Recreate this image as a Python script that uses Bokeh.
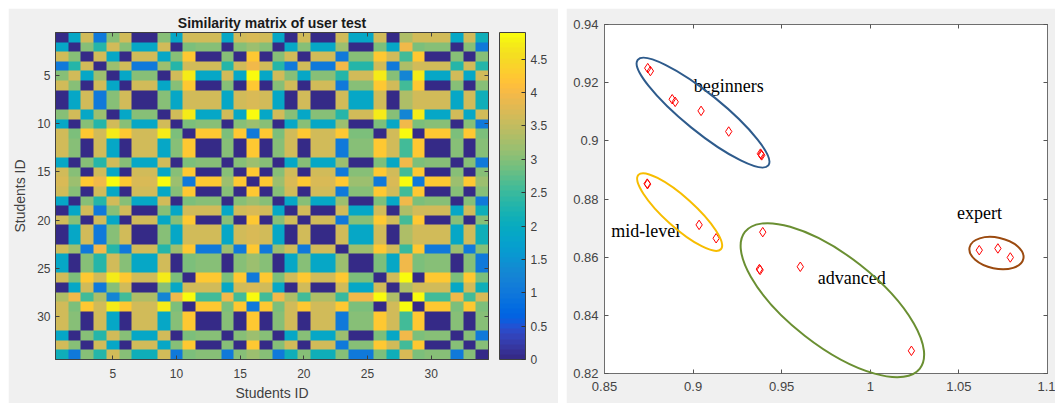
import numpy as np
from bokeh.plotting import figure
from bokeh.layouts import row
from bokeh.models import (LinearColorMapper, ColorBar, FixedTicker, NumeralTickFormatter,
                          LinearAxis, Range1d)
from bokeh.core.properties import value
from bokeh.embed import file_html
from bokeh.resources import INLINE

# ---------------- data: similarity matrix ----------------
# each student belongs to a behaviour group; a cell holds the similarity of the two students' groups
student_group = ["A", "B", "C", "D", "E", "C", "A", "A", "E", "B",
                 "F", "C", "C", "B", "C", "G", "C", "B", "A", "C",
                 "A", "A", "H", "B", "B", "F", "A", "I", "F", "C",
                 "C", "B", "C", "J"]
group_names = ["A", "B", "C", "D", "E", "F", "G", "H", "I", "J"]
group_similarity = [
    [0.00, 1.85, 3.60, 1.00, 3.00, 3.65, 3.70, 3.65, 3.30, 2.10],
    [1.85, 0.00, 3.00, 2.35, 3.60, 2.95, 3.15, 3.20, 3.95, 1.00],
    [3.60, 3.00, 0.00, 3.60, 1.85, 4.25, 4.25, 1.05, 2.55, 3.05],
    [1.00, 2.35, 3.60, 0.00, 3.20, 3.65, 3.95, 3.95, 3.30, 2.35],
    [3.00, 3.60, 1.85, 3.20, 0.00, 4.70, 4.85, 2.35, 1.30, 3.60],
    [3.65, 2.95, 4.25, 3.65, 4.70, 0.00, 1.00, 4.25, 4.85, 2.95],
    [3.70, 3.15, 4.25, 3.95, 4.85, 1.00, 0.00, 4.25, 4.90, 3.15],
    [3.65, 3.20, 1.05, 3.95, 2.35, 4.25, 4.25, 0.00, 2.45, 3.05],
    [3.30, 3.95, 2.55, 3.30, 1.30, 4.85, 4.90, 2.45, 0.00, 3.70],
    [2.10, 1.00, 3.05, 2.35, 3.60, 2.95, 3.15, 3.05, 3.70, 0.00],
]
matrix_ticks = [5, 10, 15, 20, 25, 30]
colorbar_ticks = [0, 0.5, 1, 1.5, 2, 2.5, 3, 3.5, 4, 4.5]

# ---------------- data: scatter ----------------
pts_x = [0.8744, 0.8759, 0.8882, 0.8899, 0.9045, 0.9201, 0.9380, 0.9384, 0.9387,
         0.8741, 0.8743, 0.9034, 0.9130,
         0.9393, 0.9374, 0.9378, 0.9605, 1.0232,
         1.0615, 1.0720, 1.0790]
pts_y = [0.9250, 0.9240, 0.9143, 0.9134, 0.9103, 0.9032, 0.8956, 0.8953, 0.8950,
         0.8853, 0.8851, 0.8711, 0.8665,
         0.8686, 0.8559, 0.8556, 0.8567, 0.8278,
         0.8624, 0.8630, 0.8599]
cluster_names = ["beginners", "mid-level", "advanced", "expert"]
label_x = [0.9004, 0.8538, 0.9703, 1.0489]
label_y = [0.9189, 0.8690, 0.8527, 0.8751]
ell_x = [0.9056, 0.8924, 0.9786, 1.0712]
ell_y = [0.9097, 0.8755, 0.8452, 0.8614]
scatter_xticks = [0.85, 0.9, 0.95, 1.0, 1.05, 1.1]
scatter_yticks = [0.82, 0.84, 0.86, 0.88, 0.90, 0.92, 0.94]

# ---------------- style ----------------
ell_w = [168, 111, 222, 55]      # screen px
ell_h = [38, 30, 90, 31]
ell_angle_deg = [-39, -42, -38, -12]
ell_colors = ["#2e5b8c", "#f7bd00", "#6a8f32", "#9b4a0f"]

parula_rgb = [
    (0.2081, 0.1663, 0.5292), (0.2116, 0.1898, 0.5777), (0.2123, 0.2138, 0.6270), (0.2081, 0.2386, 0.6771),
    (0.1959, 0.2645, 0.7279), (0.1707, 0.2919, 0.7792), (0.1253, 0.3242, 0.8303), (0.0591, 0.3598, 0.8683),
    (0.0117, 0.3875, 0.8820), (0.0060, 0.4086, 0.8828), (0.0165, 0.4266, 0.8786), (0.0329, 0.4430, 0.8720),
    (0.0498, 0.4586, 0.8641), (0.0629, 0.4737, 0.8554), (0.0723, 0.4887, 0.8467), (0.0779, 0.5040, 0.8384),
    (0.0793, 0.5200, 0.8312), (0.0749, 0.5375, 0.8263), (0.0641, 0.5570, 0.8240), (0.0488, 0.5772, 0.8228),
    (0.0343, 0.5966, 0.8199), (0.0265, 0.6137, 0.8135), (0.0239, 0.6287, 0.8038), (0.0231, 0.6418, 0.7913),
    (0.0228, 0.6535, 0.7768), (0.0267, 0.6642, 0.7607), (0.0384, 0.6743, 0.7436), (0.0590, 0.6838, 0.7254),
    (0.0843, 0.6928, 0.7062), (0.1133, 0.7015, 0.6859), (0.1453, 0.7098, 0.6646), (0.1801, 0.7177, 0.6424),
    (0.2178, 0.7250, 0.6193), (0.2586, 0.7317, 0.5954), (0.3022, 0.7376, 0.5712), (0.3482, 0.7424, 0.5473),
    (0.3953, 0.7459, 0.5244), (0.4420, 0.7481, 0.5033), (0.4871, 0.7491, 0.4840), (0.5300, 0.7491, 0.4661),
    (0.5709, 0.7485, 0.4494), (0.6099, 0.7473, 0.4337), (0.6473, 0.7456, 0.4188), (0.6834, 0.7435, 0.4044),
    (0.7184, 0.7411, 0.3905), (0.7525, 0.7384, 0.3768), (0.7858, 0.7356, 0.3633), (0.8185, 0.7327, 0.3498),
    (0.8507, 0.7299, 0.3360), (0.8824, 0.7274, 0.3217), (0.9139, 0.7258, 0.3063), (0.9450, 0.7261, 0.2886),
    (0.9739, 0.7314, 0.2666), (0.9938, 0.7455, 0.2403), (0.9990, 0.7653, 0.2164), (0.9955, 0.7861, 0.1967),
    (0.9880, 0.8066, 0.1794), (0.9789, 0.8271, 0.1633), (0.9697, 0.8481, 0.1475), (0.9626, 0.8705, 0.1309),
    (0.9589, 0.8949, 0.1132), (0.9598, 0.9218, 0.0948), (0.9661, 0.9514, 0.0755), (0.9763, 0.9831, 0.0538),
]
parula = ["#%02x%02x%02x" % tuple(int(round(c * 255)) for c in rgb) for rgb in parula_rgb]

BG = "#f0f0f0"
SANS = "Liberation Sans"
AX = "#404040"
H = 395

# ---------------- left: heat map ----------------
gidx = {g: i for i, g in enumerate(group_names)}
mat = np.array([[group_similarity[gidx[a]][gidx[b]] for b in student_group] for a in student_group])
n = len(student_group)

mapper = LinearColorMapper(palette=parula, low=0, high=float(mat.max()))

p1 = figure(width=550, height=H, output_backend="svg", toolbar_location=None,
            x_range=Range1d(0.5, n + 0.5), y_range=Range1d(n + 0.5, 0.5),
            min_border_left=47, min_border_right=70, min_border_top=24, min_border_bottom=42,
            title="Similarity matrix of user test", frame_align=False)
p1.background_fill_color = BG
p1.border_fill_color = BG
p1.outline_line_color = AX
p1.grid.visible = False
p1.title.align = "center"
p1.title.text_font = SANS
p1.title.text_font_size = "14px"
p1.title.text_font_style = "bold"
p1.title.text_color = "#1a1a1a"
p1.title.standoff = 4

p1.image(image=[mat], x=0.5, y=0.5, dw=n, dh=n, color_mapper=mapper)

for ax in (p1.xaxis[0], p1.yaxis[0]):
    ax.ticker = FixedTicker(ticks=matrix_ticks)
    ax.minor_tick_line_color = None
    ax.major_tick_in = 4
    ax.major_tick_out = 0
    ax.major_tick_line_color = AX
    ax.axis_line_color = AX
    ax.major_label_text_font = SANS
    ax.major_label_text_font_size = "12px"
    ax.major_label_text_color = AX
    ax.axis_label = "Students ID"
    ax.axis_label_text_font = SANS
    ax.axis_label_text_font_size = "14px"
    ax.axis_label_text_font_style = "normal"
    ax.axis_label_text_color = AX
p1.xaxis[0].major_label_standoff = 9
p1.xaxis[0].axis_label_standoff = 4
p1.yaxis[0].major_label_standoff = 5
p1.yaxis[0].axis_label_standoff = 6

for side in ("above", "right"):
    a = LinearAxis(ticker=FixedTicker(ticks=matrix_ticks), major_tick_in=4, major_tick_out=0,
                   minor_tick_line_color=None, major_label_text_font_size="1px",
                   major_label_text_color=None, major_label_standoff=0,
                   axis_line_color=AX, major_tick_line_color=AX)
    p1.add_layout(a, side)

cb = ColorBar(color_mapper=mapper, width=26, padding=0, margin=0,
              ticker=FixedTicker(ticks=colorbar_ticks),
              formatter=NumeralTickFormatter(format="0.[0]"),
              major_label_text_font=SANS, major_label_text_font_size="12px",
              major_label_text_color=AX, major_tick_in=4, major_tick_out=0,
              major_tick_line_color="#333333", bar_line_color=AX,
              background_fill_alpha=0, border_line_color=None, label_standoff=5,
              location=(11, 0))
p1.add_layout(cb, "right")

# ---------------- right: scatter ----------------
p2 = figure(width=489, height=H, output_backend="svg", toolbar_location=None,
            x_range=Range1d(0.85, 1.1), y_range=Range1d(0.82, 0.94),
            min_border_left=38, min_border_right=8, min_border_top=16, min_border_bottom=30,
            frame_align=False)
p2.background_fill_color = "white"
p2.border_fill_color = BG
p2.outline_line_color = "#6e6e6e"
p2.grid.visible = False

p2.xaxis[0].ticker = FixedTicker(ticks=scatter_xticks)
p2.yaxis[0].ticker = FixedTicker(ticks=scatter_yticks)
for ax in (p2.xaxis[0], p2.yaxis[0]):
    ax.formatter = NumeralTickFormatter(format="0.[00]")
    ax.minor_tick_line_color = None
    ax.major_tick_in = 4
    ax.major_tick_out = 0
    ax.major_tick_line_color = "#555555"
    ax.axis_line_color = "#6e6e6e"
    ax.major_label_text_font = SANS
    ax.major_label_text_font_size = "13px"
    ax.major_label_text_color = "#444444"
p2.xaxis[0].major_label_standoff = 8
p2.yaxis[0].major_label_standoff = 6
for side, ticks in (("above", scatter_xticks), ("right", scatter_yticks)):
    p2.add_layout(LinearAxis(ticker=FixedTicker(ticks=ticks), major_tick_in=4, major_tick_out=0,
                             minor_tick_line_color=None, major_label_text_font_size="1px",
                             major_label_text_color=None, major_label_standoff=0,
                             axis_line_color="#6e6e6e", major_tick_line_color="#555555"), side)

ell = p2.ellipse(x=ell_x, y=ell_y, width=ell_w, height=ell_h,
                 angle=[np.deg2rad(a) for a in ell_angle_deg],
                 width_units="screen", height_units="screen",
                 fill_color=None, line_color=ell_colors, line_width=2)
ell.level = "overlay"

p2.scatter(x=pts_x, y=pts_y, marker="diamond", size=9.5, fill_color=None,
           line_color="#ff0000", line_width=1)

p2.text(x=label_x, y=label_y, text=cluster_names, text_font=value("Liberation Serif"),
        text_font_size="18px", text_color="black", text_align="left", text_baseline="middle")

layout = row(p1, p2, spacing=8, margin=(8, 0, 0, 8))
open("out.html", "w").write(file_html(layout, INLINE))
